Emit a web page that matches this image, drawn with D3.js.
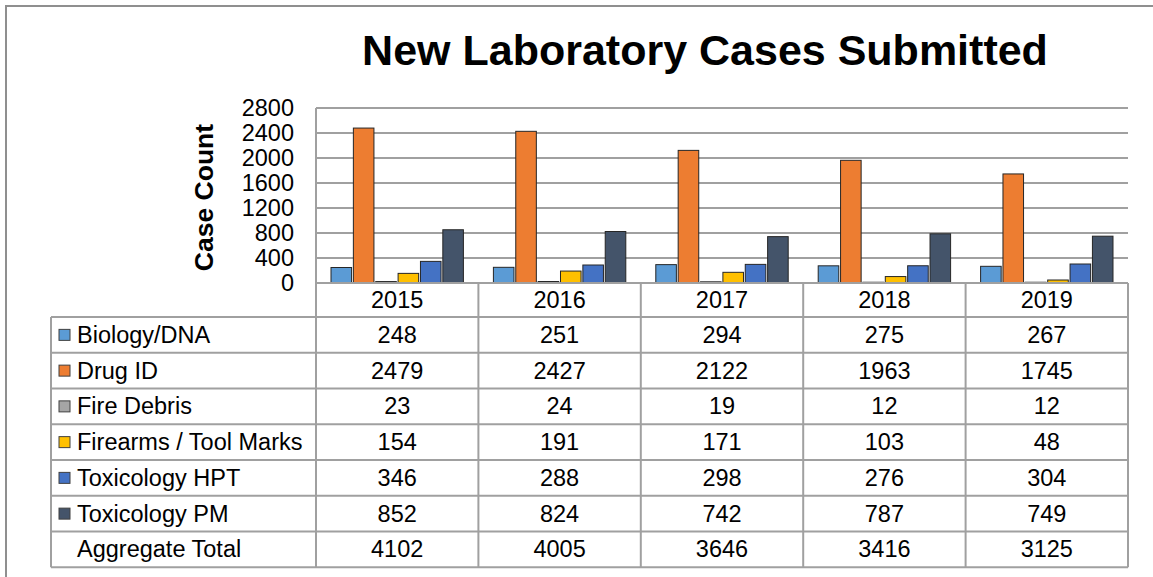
<!DOCTYPE html>
<html>
<head>
<meta charset="utf-8">
<script src="https://cdn.jsdelivr.net/npm/d3@7"></script>
<style>
  body { margin: 0; background: #fff; }
  text { font-family: "Liberation Sans", Arial, sans-serif; fill: #000; }
</style>
</head>
<body>
<div id="chart"></div>
<script>
// chart data
const years = ["2015", "2016", "2017", "2018", "2019"];
const categories = ["Biology/DNA", "Drug ID", "Fire Debris", "Firearms / Tool Marks", "Toxicology HPT", "Toxicology PM"];
const biology   = [248, 251, 294, 275, 267];
const drugId    = [2479, 2427, 2122, 1963, 1745];
const fireDebris = [23, 24, 19, 12, 12];
const firearms  = [154, 191, 171, 103, 48];
const toxHPT    = [346, 288, 298, 276, 304];
const toxPM     = [852, 824, 742, 787, 749];
const totals    = [4102, 4005, 3646, 3416, 3125];
const yTicks    = [0, 400, 800, 1200, 1600, 2000, 2400, 2800];

const seriesValues = [biology, drugId, fireDebris, firearms, toxHPT, toxPM];
const colors = ["#5B9BD5", "#ED7D31", "#A5A5A5", "#FFC000", "#4472C4", "#44546A"];

const W = 1153, H = 577;
const plotLeft = 316, plotRight = 1128, plotTop = 108, plotBottom = 283;
const tableLeft = 51, headerBottom = 317, rowH = 35.75;
const gridColor = "#a0a0a0";
const fontSize = "23.5px";

const svg = d3.select("#chart")
  .append("svg")
  .attr("width", W)
  .attr("height", H);

// outer chart border (runs off the right / bottom edge)
svg.append("rect")
  .attr("x", 6).attr("y", 6)
  .attr("width", W).attr("height", H)
  .attr("fill", "none")
  .attr("stroke", "#8f8f8f")
  .attr("stroke-width", 2);

// title
svg.append("text")
  .attr("x", 705)
  .attr("y", 65)
  .attr("text-anchor", "middle")
  .style("font-size", "43px")
  .style("font-weight", "bold")
  .text("New Laboratory Cases Submitted");

// scales
const x0 = d3.scaleBand()
  .domain(years)
  .range([plotLeft, plotRight])
  .padding(0);

const x1 = d3.scaleBand()
  .domain(categories)
  .range([15, x0.bandwidth() - 15])
  .paddingInner(0.08);

const y = d3.scaleLinear()
  .domain([0, 2800])
  .range([plotBottom, plotTop]);

const color = d3.scaleOrdinal().domain(categories).range(colors);

// gridlines
svg.append("g")
  .selectAll("line")
  .data(yTicks)
  .join("line")
  .attr("x1", plotLeft).attr("x2", plotRight)
  .attr("y1", d => y(d)).attr("y2", d => y(d))
  .attr("stroke", gridColor)
  .attr("stroke-width", 2);

// vertical axis line
svg.append("line")
  .attr("x1", plotLeft).attr("x2", plotLeft)
  .attr("y1", plotTop).attr("y2", plotBottom)
  .attr("stroke", gridColor)
  .attr("stroke-width", 2);

// y tick labels
svg.append("g")
  .selectAll("text")
  .data(yTicks)
  .join("text")
  .attr("x", 294)
  .attr("y", d => y(d))
  .attr("dy", "0.36em")
  .attr("text-anchor", "end")
  .style("font-size", fontSize)
  .text(d => d);

// y axis title
svg.append("text")
  .attr("transform", `translate(213,${(plotTop + plotBottom) / 2 + 2}) rotate(-90)`)
  .attr("text-anchor", "middle")
  .style("font-size", "26.5px")
  .style("font-weight", "bold")
  .text("Case Count");

// bars
const groups = svg.selectAll(".g-year")
  .data(years)
  .join("g")
  .attr("class", "g-year")
  .attr("transform", yr => `translate(${x0(yr)},0)`);

groups.selectAll("rect")
  .data((yr, i) => categories.map((c, j) => ({ cat: c, value: seriesValues[j][i] })))
  .join("rect")
  .attr("x", d => x1(d.cat))
  .attr("y", d => y(d.value))
  .attr("width", x1.bandwidth())
  .attr("height", d => plotBottom - y(d.value))
  .attr("fill", d => color(d.cat))
  .attr("stroke", "#262626")
  .attr("stroke-width", 1);

// data table
const rows = categories.map((c, j) => ({ label: c, values: seriesValues[j], swatch: colors[j] }));
rows.push({ label: "Aggregate Total", values: totals, swatch: null });
const tableBottom = headerBottom + rows.length * rowH;

const table = svg.append("g");

// header row (years)
table.selectAll(".year-label")
  .data(years)
  .join("text")
  .attr("class", "year-label")
  .attr("x", yr => x0(yr) + x0.bandwidth() / 2)
  .attr("y", (plotBottom + headerBottom) / 2 + 8)
  .attr("text-anchor", "middle")
  .style("font-size", fontSize)
  .text(yr => yr);

// row contents
rows.forEach((r, i) => {
  const top = headerBottom + i * rowH;
  const base = top + rowH / 2 + 8;
  if (r.swatch) {
    table.append("rect")
      .attr("x", 59).attr("y", top + rowH / 2 - 5.5)
      .attr("width", 11).attr("height", 11)
      .attr("fill", r.swatch)
      .attr("stroke", "#404040")
      .attr("stroke-width", 1);
  }
  table.append("text")
    .attr("x", 77)
    .attr("y", base)
    .style("font-size", fontSize)
    .text(r.label);
  table.selectAll(null)
    .data(r.values)
    .join("text")
    .attr("x", (v, k) => x0(years[k]) + x0.bandwidth() / 2)
    .attr("y", base)
    .attr("text-anchor", "middle")
    .style("font-size", fontSize)
    .text(v => v);
});

// table grid lines
const hLines = d3.range(rows.length + 1).map(i => headerBottom + i * rowH);
table.selectAll(".hline")
  .data(hLines)
  .join("line")
  .attr("x1", tableLeft).attr("x2", plotRight)
  .attr("y1", d => d).attr("y2", d => d)
  .attr("stroke", gridColor)
  .attr("stroke-width", 2);

// zero line / top of header row
table.append("line")
  .attr("x1", plotLeft).attr("x2", plotRight)
  .attr("y1", plotBottom).attr("y2", plotBottom)
  .attr("stroke", gridColor)
  .attr("stroke-width", 2);

const vLines = years.map(yr => x0(yr)).concat([plotRight]);
table.selectAll(".vline")
  .data(vLines)
  .join("line")
  .attr("x1", d => d).attr("x2", d => d)
  .attr("y1", plotBottom).attr("y2", tableBottom)
  .attr("stroke", gridColor)
  .attr("stroke-width", 2);

table.append("line")
  .attr("x1", tableLeft).attr("x2", tableLeft)
  .attr("y1", headerBottom).attr("y2", tableBottom)
  .attr("stroke", gridColor)
  .attr("stroke-width", 2);
</script>
</body>
</html>
